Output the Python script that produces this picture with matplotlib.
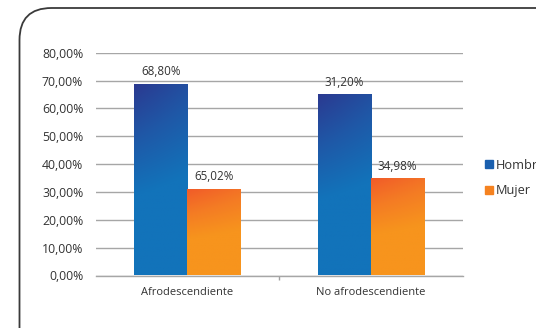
import numpy as np
import matplotlib
matplotlib.use("Agg")
import matplotlib.pyplot as plt
from matplotlib.patches import FancyBboxPatch
from matplotlib.colors import LinearSegmentedColormap
from matplotlib.lines import Line2D

plt.rcParams["font.family"] = ["Open Sans", "DejaVu Sans"]

# data
categories = ["Afrodescendiente", "No afrodescendiente"]
hombre = [68.80, 65.02]
mujer = [31.20, 34.98]
# labels as printed in the original chart
hombre_labels = ["68,80%", "31,20%"]
mujer_labels = ["65,02%", "34,98%"]
yticks = [0, 10, 20, 30, 40, 50, 60, 70, 80]

W, H = 536, 328
fig = plt.figure(figsize=(W / 100, H / 100), dpi=100)

# rounded frame drawn in pixel space
bg = fig.add_axes([0, 0, 1, 1])
bg.set_xlim(0, W)
bg.set_ylim(H, 0)
bg.axis("off")
bg.add_patch(FancyBboxPatch((19.5, 8), 600, 400,
                            boxstyle="round,pad=0,rounding_size=32",
                            fc="white", ec="#3a3a3a", lw=1.3))

ax = fig.add_axes([95.7 / W, (H - 275.5) / H, 367 / W, 222.8 / H])
ax.patch.set_alpha(0)

blue = LinearSegmentedColormap.from_list("b", ["#2b3990", "#1f58a7", "#1273ba"])
orange = LinearSegmentedColormap.from_list("o", ["#f15a29", "#f47b24", "#f7941d"])

x = np.arange(len(categories))
bw = 0.289


def grad_bars(xs, vals, cmap):
    bars = ax.bar(xs, vals, width=bw, color="none", edgecolor="none", zorder=3)
    for b in bars:
        x0, y0 = b.get_x(), b.get_y()
        w, h = b.get_width(), b.get_height()
        gx, gy = np.meshgrid(np.linspace(0, 1, 40), np.linspace(0, 1, 200))
        # gy = 0 at the top; diagonal blend, solid in the lower half
        g = np.clip(1.7 * gy + 0.35 * gx * (1 - gy), 0, 1)
        im = ax.imshow(g, cmap=cmap, aspect="auto", origin="upper",
                       extent=[x0, x0 + w, y0, y0 + h], zorder=3,
                       vmin=0, vmax=1)
        im.set_clip_path(b)
    return bars


bh = grad_bars(x - bw / 2, hombre, blue)
bm = grad_bars(x + bw / 2, mujer, orange)

for xi, v, lab in zip(x - bw / 2, hombre, hombre_labels):
    ax.annotate(lab, (xi, v), xytext=(0, 4), textcoords="offset points",
                ha="center", va="bottom", fontsize=8.4, color="#333333")
for xi, v, lab in zip(x + bw / 2, mujer, mujer_labels):
    ax.annotate(lab, (xi, v), xytext=(0, 4), textcoords="offset points",
                ha="center", va="bottom", fontsize=8.4, color="#333333")

ax.set_xlim(-0.5, 1.5)
ax.set_ylim(0, 80)
ax.set_yticks(yticks)
ax.set_yticklabels([f"{t:.2f}".replace(".", ",") + "%" for t in yticks])
ax.set_xticks(x)
ax.set_xticklabels(categories)
ax.set_xticks([0.5], minor=True)
ax.tick_params(axis="y", length=0, pad=9, labelsize=8.8, labelcolor="#333333")
ax.tick_params(axis="x", which="major", length=0, pad=8, labelsize=8.0, labelcolor="#333333")
ax.tick_params(axis="x", which="minor", length=3, color="#a0a0a0", width=1)
ax.yaxis.grid(True, color="#a6a6a6", lw=1)
ax.set_axisbelow(True)
for s in ["top", "right", "left"]:
    ax.spines[s].set_visible(False)
ax.spines["bottom"].set_color("#a6a6a6")
ax.spines["bottom"].set_linewidth(1)

handles = [Line2D([], [], marker="s", ls="", color="#1a5fae", markersize=5.5),
           Line2D([], [], marker="s", ls="", color="#f58220", markersize=5.5)]
fig.legend(handles, ["Hombre", "Mujer"], loc="center left",
           bbox_to_anchor=(473 / W, 1 - 178 / H), frameon=False,
           fontsize=9.2, handlelength=0.7, handletextpad=0.2,
           labelspacing=1.0, labelcolor="#333333")

fig.savefig("out.png", dpi=100)
